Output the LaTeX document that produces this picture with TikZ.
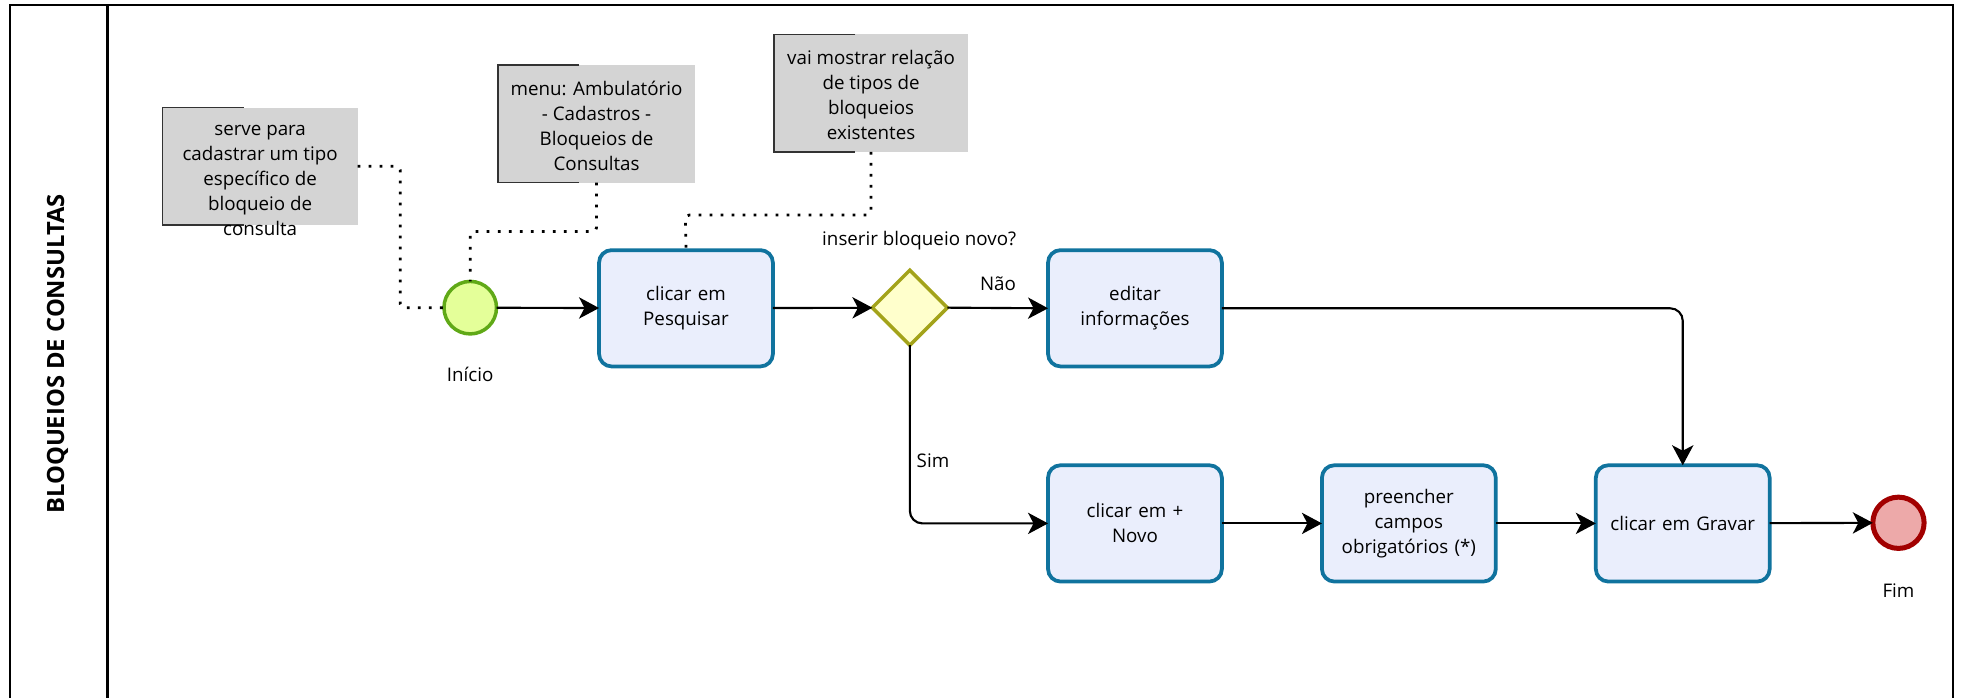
\documentclass[tikz,border=0pt]{standalone}
\usepackage{fontspec}
\setmainfont{Open Sans}
\usetikzlibrary{arrows.meta,calc,shapes.geometric}

\definecolor{taskfill}{HTML}{EAEEFC}
\definecolor{taskline}{HTML}{10739E}
\definecolor{startfill}{HTML}{E4FF99}
\definecolor{startline}{HTML}{60A917}
\definecolor{endfill}{HTML}{EDA9A9}
\definecolor{endline}{HTML}{A20000}
\definecolor{gwfill}{HTML}{FFFFCC}
\definecolor{gwline}{HTML}{A3A31A}
\definecolor{notefill}{HTML}{D4D4D4}

\tikzset{
  task/.style={draw=taskline, fill=taskfill, line width=1.5pt, rounded corners=5pt,
    minimum width=69.5pt, minimum height=46.5pt, align=center, text width=64pt,
    inner sep=0pt, outer sep=0pt},
  startev/.style={circle, draw=startline, fill=startfill, line width=1.4pt,
    minimum size=21pt, inner sep=0pt, outer sep=0pt},
  endev/.style={circle, draw=endline, fill=endfill, line width=2pt,
    minimum size=20.5pt, inner sep=0pt, outer sep=0pt},
  gateway/.style={diamond, draw=gwline, fill=gwfill, line width=1.4pt,
    minimum width=30pt, minimum height=30pt, inner sep=0pt, outer sep=0pt},
  notebox/.style={fill=notefill, minimum height=47pt, inner sep=0pt, outer sep=0pt},
  notetext/.style={align=center, inner sep=0pt},
  bracket/.style={line width=0.7pt, draw=black!80},
  lbl/.style={inner sep=0pt},
  flow/.style={line width=0.85pt, -{Stealth[length=8pt,width=8.5pt,inset=2.2pt]}},
  assoc/.style={line width=1.1pt, dash pattern=on 1.1pt off 3.3pt, rounded corners=1.5pt},
  frame/.style={line width=1pt}
}

\begin{document}
\begin{tikzpicture}[x=0.5pt, y=-0.5pt, font=\fontsize{7.5}{10}\selectfont]
\useasboundingbox (0,0) rectangle (1568,558);

% pool frame and lane header
\draw[frame] (8,560) -- (8,4) -- (1561.5,4) -- (1561.5,560);
\draw[frame] (86,4) -- (86,560);
\node[rotate=90, font=\fontsize{9.5}{11}\selectfont\bfseries] (lane) at (46,283) {BLOQUEIOS DE CONSULTAS};

% annotations
\node[notebox, minimum width=78pt] (n1) at (208,133) {};
\draw[bracket] ($(n1.north west)+(65,0)$) -- (n1.north west) -- (n1.south west) -- ($(n1.south west)+(65,0)$);
\node[notetext] (n1t) at (208,144) {serve para\\cadastrar um tipo\\específico de\\bloqueio de\\consulta};

\node[notebox, minimum width=79pt] (n2) at (477,99) {};
\draw[bracket] ($(n2.north west)+(65,0)$) -- (n2.north west) -- (n2.south west) -- ($(n2.south west)+(65,0)$);
\node[notetext] (n2t) at (477,101) {menu: Ambulatório\\- Cadastros -\\Bloqueios de\\Consultas};

\node[notebox, minimum width=77.5pt] (n3) at (696.5,74.5) {};
\draw[bracket] ($(n3.north west)+(65,0)$) -- (n3.north west) -- (n3.south west) -- ($(n3.south west)+(65,0)$);
\node[notetext] (n3t) at (696.5,76) {vai mostrar relação\\de tipos de\\bloqueios\\existentes};

% flow elements
\node[startev] (start) at (376,246) {};
\node[lbl] (startl) at (376,299) {Início};
\node[task] (t1) at (548.5,246.5) {clicar em\\Pesquisar};
\node[gateway] (gw) at (727.5,246) {};
\node[lbl] (gwl) at (735,192) {inserir bloqueio novo?};
\node[task] (t2) at (907.5,246.5) {editar\\informações};
\node[task] (t3) at (907.5,418.5) {clicar em +\\Novo};
\node[task] (t4) at (1126.5,418.5) {preencher\\campos\\obrigatórios (*)};
\node[task] (t5) at (1345.5,418.5) {clicar em Gravar};
\node[endev] (end) at (1518,418) {};
\node[lbl] (endl) at (1518,472) {Fim};

% associations
\draw[assoc] (n1.east) -| (320,246) -- (start.west);
\draw[assoc] (n2.south) |- (376,185) -- (start.north);
\draw[assoc] (n3.south) |- (548,172) -- (t1.north);

% sequence flows
\draw[flow] (start) -- (t1);
\draw[flow] (t1) -- (gw);
\draw[flow] (gw.east) -- (t2.west);
\node[lbl] (nao) at (798,227) {Não};
\draw[flow, rounded corners=5pt] (gw.south) |- (t3.west);
\node[lbl] (sim) at (746,368) {Sim};
\draw[flow, rounded corners=5pt] (t2.east) -| (t5.north);
\draw[flow] (t3) -- (t4);
\draw[flow] (t4) -- (t5);
\draw[flow] (t5) -- (end);
\end{tikzpicture}
\end{document}
